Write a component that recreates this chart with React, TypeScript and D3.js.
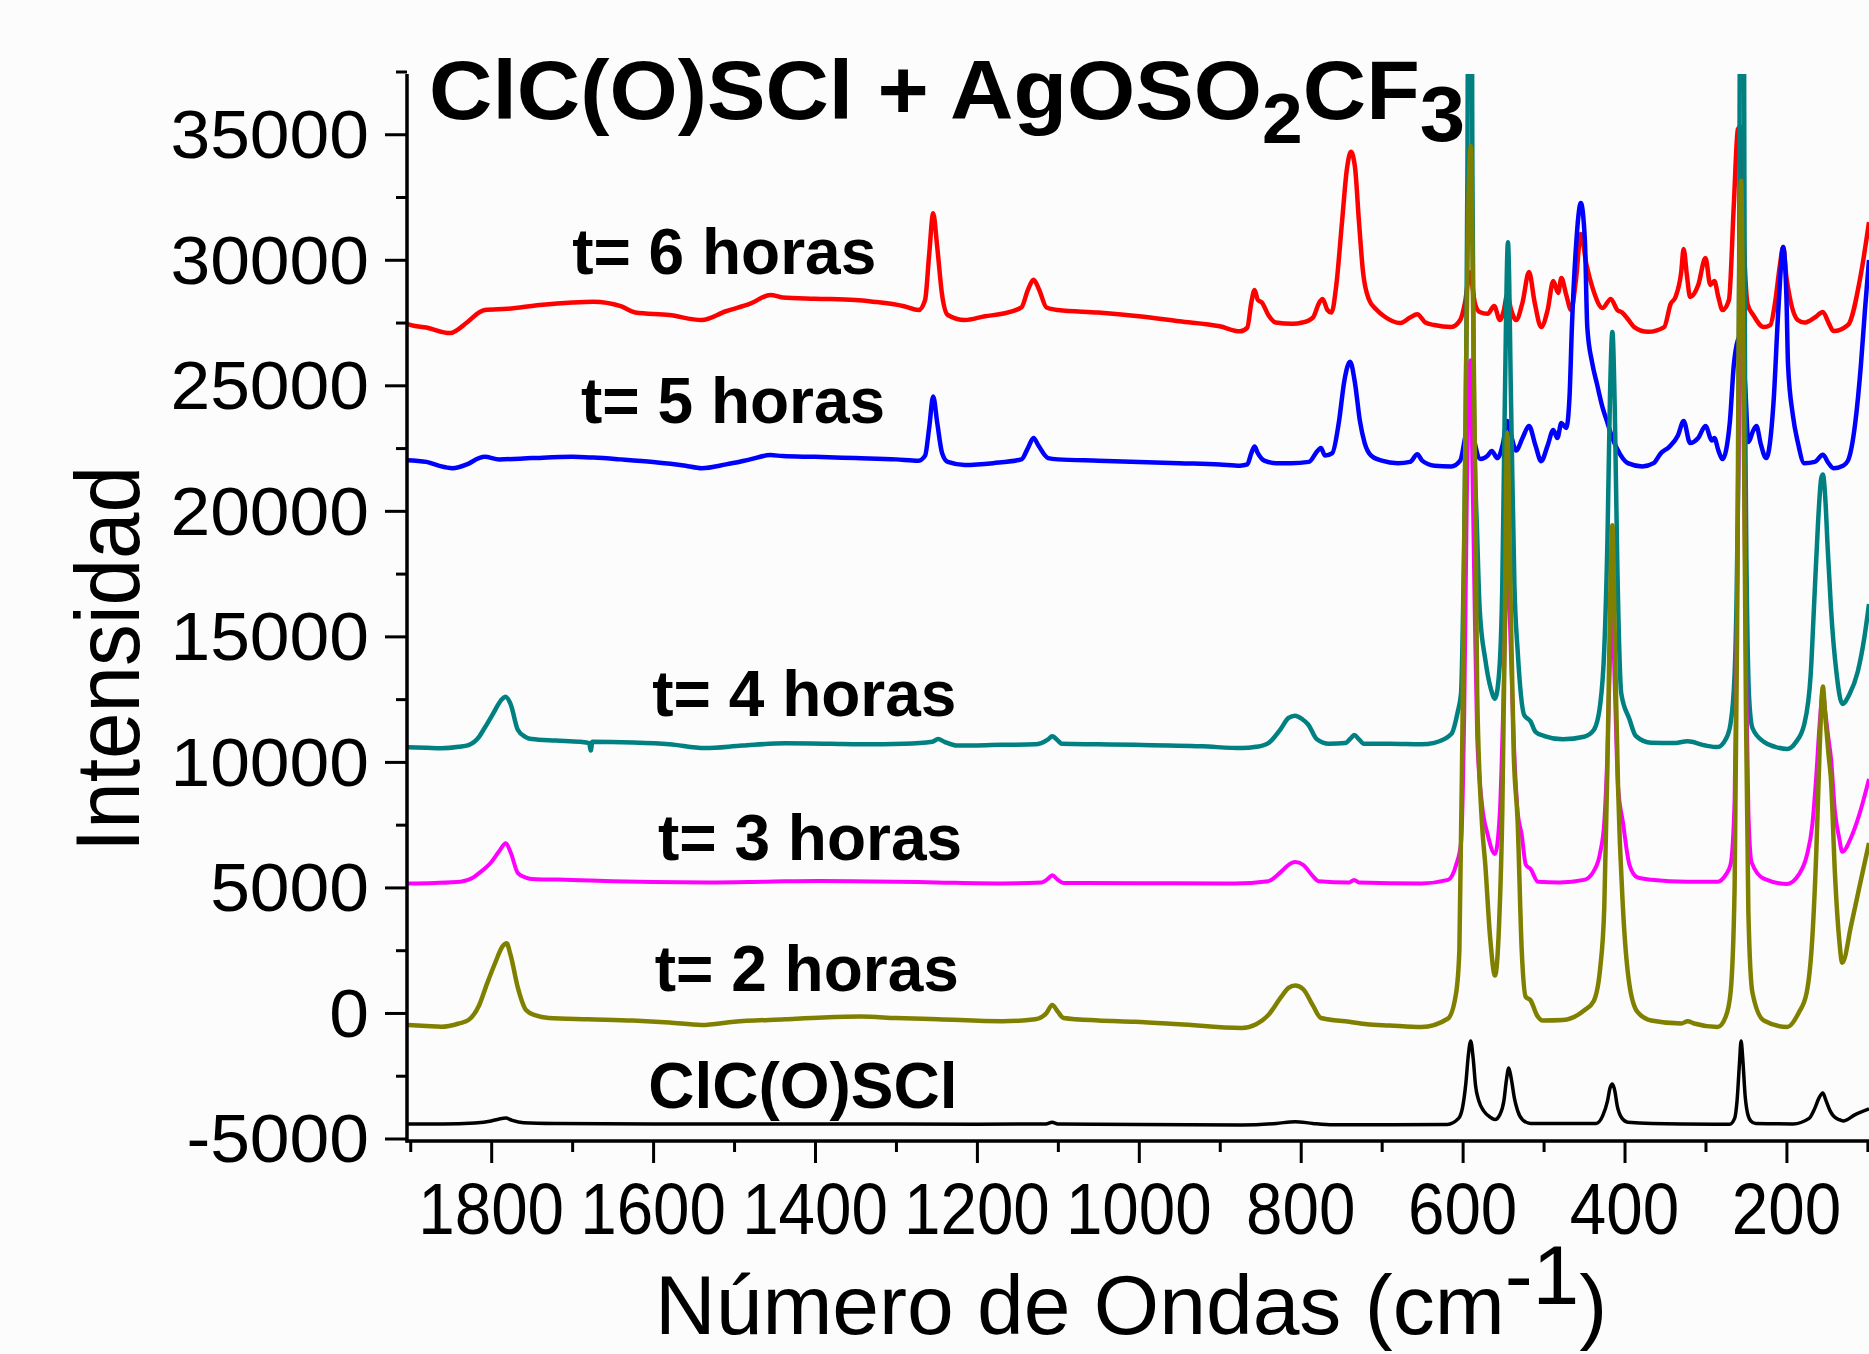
import React, { useEffect, useRef } from 'react';
import * as d3 from 'd3';

// wavenumber (cm-1), intensity pairs
const red6h: [number, number][] = [
  [1904, 27450], [1899, 27400], [1880, 27300], [1851, 27080], [1830, 27500], [1815, 27900], [1808, 28000],
  [1780, 28050], [1740, 28200], [1700, 28300], [1674, 28330], [1640, 28150], [1622, 27900], [1580, 27800],
  [1540, 27600], [1510, 27950], [1480, 28250], [1455, 28600], [1440, 28500], [1400, 28450], [1350, 28400],
  [1328, 28330], [1290, 28150], [1272, 28000], [1264, 28400], [1259, 30200], [1254, 31850], [1249, 30500],
  [1243, 28600], [1236, 27800], [1215, 27600], [1190, 27750], [1169, 27850], [1145, 28100], [1137, 28800],
  [1130, 29200], [1123, 28800], [1114, 28100], [1100, 28000], [1050, 27900], [1000, 27750], [950, 27550],
  [900, 27350], [875, 27150], [866, 27300], [861, 28300], [857, 28800], [853, 28400], [848, 28300],
  [840, 27800], [831, 27500], [810, 27450], [798, 27500], [785, 27700], [777, 28300], [773, 28440],
  [767, 28000], [762, 27900], [756, 29000], [749, 31500], [743, 33600], [738, 34300], [733, 33700],
  [728, 31500], [723, 29500], [716, 28440], [706, 28000], [697, 27750], [677, 27480], [665, 27700],
  [656, 27830], [646, 27500], [635, 27400], [614, 27320], [603, 27600], [597, 28300], [591, 29500],
  [585, 28300], [579, 27920], [569, 27850], [561, 28160], [554, 27600], [549, 28000], [545, 28600],
  [540, 28000], [534, 27600], [526, 28300], [518, 29510], [511, 28300], [503, 27320], [495, 28000],
  [488, 29150], [482, 28680], [478, 29270], [472, 28600], [466, 28000], [460, 29200], [454, 31030],
  [447, 29800], [439, 28830], [427, 28080], [417, 28440], [409, 28000], [403, 27900], [395, 27600],
  [388, 27320], [371, 27130], [351, 27320], [343, 28240], [337, 28520], [330, 29500], [327, 30430],
  [323, 29400], [319, 28520], [309, 28990], [300, 30070], [294, 29000], [289, 29150], [284, 28500],
  [279, 28000], [271, 28400], [265, 32180], [260, 35200], [257, 35300], [253, 31000], [248, 28240],
  [241, 27800], [228, 27320], [220, 27400], [214, 28300], [208, 29800], [204, 30510], [200, 29300],
  [196, 28520], [186, 27600], [178, 27500], [165, 27700], [155, 27920], [148, 27500], [142, 27160],
  [124, 27400], [108, 29430], [98, 31500],
];

const blue5h: [number, number][] = [
  [1904, 22020], [1880, 21950], [1865, 21800], [1848, 21700], [1830, 21850], [1815, 22100], [1808, 22150],
  [1790, 22050], [1750, 22100], [1700, 22150], [1674, 22120], [1640, 22050], [1600, 21950], [1560, 21800],
  [1540, 21700], [1510, 21850], [1480, 22050], [1455, 22220], [1440, 22180], [1400, 22150], [1350, 22100],
  [1300, 22050], [1272, 22000], [1264, 22200], [1259, 23300], [1254, 24550], [1249, 23500], [1243, 22300],
  [1236, 21950], [1215, 21830], [1180, 21900], [1145, 22050], [1137, 22500], [1130, 22900], [1124, 22600],
  [1112, 22100], [1100, 22050], [1050, 22000], [1000, 21950], [950, 21900], [900, 21850], [875, 21800],
  [866, 21850], [861, 22300], [857, 22560], [853, 22300], [845, 22000], [830, 21900], [812, 21900],
  [790, 21950], [779, 22400], [775, 22500], [770, 22200], [761, 22300], [753, 23500], [746, 25200],
  [739, 25940], [733, 25100], [727, 23600], [721, 22700], [713, 22200], [700, 22000], [680, 21900],
  [665, 21950], [656, 22250], [650, 22000], [635, 21800], [614, 21770], [603, 22000], [597, 22900],
  [591, 23800], [585, 22700], [578, 22060], [569, 22200], [564, 22380], [557, 22100], [550, 22700],
  [545, 23580], [540, 23000], [534, 22400], [526, 22900], [518, 23380], [510, 22600], [503, 21980],
  [495, 22600], [488, 23220], [483, 22900], [478, 23500], [472, 23300], [468, 24500], [465, 27320],
  [460, 30500], [454, 32260], [449, 30800], [446, 27320], [440, 25900], [434, 25050], [427, 24100],
  [421, 23500], [415, 22900], [409, 22460], [396, 21900], [378, 21770], [364, 21900], [355, 22300],
  [345, 22540], [334, 23000], [327, 23580], [319, 22700], [309, 22900], [300, 23380], [292, 22800],
  [289, 22900], [284, 22400], [279, 22060], [270, 23500], [265, 25810], [260, 26800], [256, 27000],
  [251, 25000], [247, 22740], [241, 23200], [237, 23380], [232, 22700], [225, 22100], [216, 24290],
  [210, 28000], [204, 30510], [200, 28500], [198, 25810], [192, 23800], [186, 22740], [178, 21900],
  [165, 21950], [155, 22230], [148, 21900], [142, 21700], [130, 21800], [124, 22000], [115, 23500],
  [108, 25810], [103, 28000], [98, 29990],
];

const teal4h: [number, number][] = [
  [1904, 10580], [1880, 10560], [1862, 10540], [1840, 10600], [1828, 10670], [1815, 11000], [1808, 11360],
  [1798, 11900], [1788, 12450], [1782, 12600], [1776, 12300], [1767, 11270], [1758, 11000], [1750, 10910],
  [1720, 10850], [1690, 10800], [1679, 10750], [1677, 10450], [1675, 10800], [1625, 10770], [1580, 10700],
  [1536, 10550], [1490, 10650], [1437, 10740], [1380, 10720], [1343, 10700], [1290, 10720], [1255, 10800],
  [1248, 10910], [1240, 10800], [1225, 10650], [1169, 10680], [1128, 10700], [1112, 10900], [1107, 11020],
  [1100, 10850], [1095, 10720], [1050, 10700], [1005, 10680], [922, 10620], [873, 10550], [855, 10600],
  [840, 10750], [825, 11300], [815, 11750], [807, 11840], [798, 11700], [791, 11500], [780, 10900],
  [765, 10720], [745, 10750], [738, 10950], [734, 11070], [728, 10900], [722, 10720], [690, 10720],
  [651, 10700], [635, 10760], [614, 11110], [606, 12000], [602, 12720], [598, 19000], [596, 24000],
  [594, 34000], [591, 70000], [588, 34000], [586, 24000], [582, 19000], [579, 16130], [572, 14080],
  [565, 12900], [560, 12520], [555, 13500], [551, 17000], [548, 24000], [544, 30700], [540, 24000],
  [536, 17000], [532, 14420], [524, 11870], [516, 11610], [510, 11200], [499, 11030], [476, 10900],
  [450, 11000], [438, 11270], [430, 12300], [425, 14500], [421, 19000], [418, 24500], [415, 27120],
  [412, 24000], [409, 18000], [404, 12720], [394, 11710], [386, 11030], [367, 10760], [340, 10750],
  [322, 10820], [300, 10650], [285, 10590], [275, 10900], [269, 11530], [264, 13500], [261, 17800],
  [259, 24000], [258, 34000], [255, 70000], [252, 34000], [251, 24000], [249, 17000], [246, 12500],
  [242, 11350], [228, 10800], [214, 10600], [199, 10510], [188, 10800], [178, 11500], [170, 13500],
  [166, 16130], [161, 19500], [157, 21300], [155, 21450], [152, 20500], [149, 18500], [145, 16130],
  [138, 13500], [131, 12310], [122, 12700], [112, 13580], [104, 14900], [98, 16290],
];

const magenta3h: [number, number][] = [
  [1904, 5160], [1870, 5180], [1838, 5230], [1822, 5400], [1815, 5570], [1800, 6000], [1790, 6450],
  [1782, 6760], [1776, 6400], [1767, 5570], [1758, 5400], [1750, 5340], [1700, 5300], [1650, 5250],
  [1600, 5220], [1531, 5200], [1460, 5230], [1395, 5260], [1300, 5230], [1250, 5200], [1169, 5160],
  [1120, 5200], [1112, 5350], [1107, 5490], [1100, 5300], [1093, 5180], [1000, 5170], [882, 5160],
  [840, 5250], [825, 5600], [815, 5900], [807, 6010], [797, 5900], [785, 5450], [778, 5250], [740, 5200],
  [734, 5300], [728, 5200], [651, 5160], [618, 5300], [608, 5900], [602, 6770], [598, 12000],
  [595, 20000], [592, 25500], [590, 26000], [588, 22000], [585, 16000], [582, 11000], [576, 8290],
  [569, 7100], [560, 6330], [554, 8000], [550, 12000], [547, 16000], [544, 18000], [541, 15000],
  [537, 11000], [532, 8000], [527, 7100], [522, 5910], [516, 5730], [507, 5230], [480, 5200], [450, 5300],
  [438, 5650], [430, 6400], [425, 7600], [421, 10500], [418, 14000], [415, 16000], [412, 13000],
  [408, 9000], [402, 7600], [394, 5910], [384, 5400], [367, 5310], [322, 5230], [285, 5230], [275, 5500],
  [269, 5910], [264, 8500], [261, 16000], [258, 26000], [256, 30000], [253, 24000], [250, 14000],
  [247, 8000], [243, 6000], [228, 5350], [199, 5140], [185, 5500], [175, 6250], [168, 7500], [163, 9500],
  [159, 11500], [155, 12800], [152, 12000], [148, 10900], [145, 10160], [140, 8000], [135, 7000],
  [131, 6420], [120, 7000], [110, 7900], [98, 9320],
];

const olive2h: [number, number][] = [
  [1904, -480], [1880, -520], [1862, -550], [1840, -420], [1828, -280], [1815, 300], [1805, 1180],
  [1795, 2000], [1786, 2650], [1781, 2780], [1776, 2300], [1767, 1000], [1757, 120], [1745, -100],
  [1729, -200], [1680, -250], [1625, -300], [1580, -380], [1540, -480], [1500, -350], [1437, -250],
  [1390, -180], [1343, -145], [1300, -200], [1248, -250], [1169, -330], [1128, -250], [1114, 0],
  [1107, 320], [1100, 50], [1093, -200], [1050, -300], [1005, -350], [950, -450], [873, -600],
  [855, -450], [840, -80], [825, 600], [815, 1000], [807, 1090], [797, 950], [785, 300], [775, -200],
  [740, -350], [718, -450], [690, -500], [651, -560], [618, -220], [608, 800], [604, 2510], [600, 12000],
  [596, 25000], [593, 32000], [590, 34530], [587, 28000], [584, 20000], [582, 12720], [576, 7500],
  [572, 5910], [566, 3000], [560, 1490], [555, 3500], [551, 8000], [548, 15000], [545, 23100],
  [541, 17000], [537, 10500], [532, 7600], [527, 2500], [522, 640], [516, 500], [508, -100], [501, -300],
  [476, -280], [450, 100], [438, 480], [430, 1800], [425, 4220], [421, 10000], [418, 16000],
  [415, 19430], [412, 15000], [408, 9000], [402, 4220], [394, 1140], [384, 40], [367, -300], [330, -420],
  [322, -330], [314, -420], [285, -560], [275, -150], [269, 810], [264, 5000], [261, 15000],
  [259, 27000], [256, 33150], [253, 25000], [250, 12000], [247, 4000], [242, 810], [228, -300],
  [199, -560], [185, 0], [175, 810], [168, 3000], [163, 6500], [159, 10500], [155, 13000], [152, 11800],
  [148, 10300], [145, 9320], [140, 5500], [135, 3000], [131, 2000], [120, 3500], [110, 5000], [98, 6770],
];

const blackRef: [number, number][] = [
  [1904, -4420], [1860, -4420], [1820, -4380], [1800, -4300], [1790, -4220], [1782, -4184],
  [1774, -4280], [1760, -4370], [1720, -4400], [1600, -4420], [1400, -4420], [1200, -4430],
  [1115, -4420], [1107, -4350], [1100, -4420], [1000, -4440], [873, -4460], [830, -4400], [807, -4330],
  [785, -4400], [760, -4450], [700, -4450], [619, -4440], [605, -4200], [600, -3750], [596, -2800],
  [593, -1700], [590, -1117], [587, -1800], [584, -2900], [580, -3500], [574, -3900], [566, -4150],
  [560, -4245], [554, -4050], [549, -3500], [546, -2700], [543, -2190], [540, -2600], [536, -3400],
  [532, -3900], [526, -4250], [516, -4400], [435, -4400], [427, -4100], [421, -3500], [418, -3000],
  [415, -2830], [412, -3100], [409, -3700], [403, -4200], [396, -4350], [330, -4420], [270, -4430],
  [264, -4200], [261, -3500], [258, -2000], [256, -1117], [254, -1800], [251, -3300], [248, -4000],
  [244, -4300], [238, -4400], [192, -4420], [172, -4200], [165, -3800], [160, -3400], [155, -3190],
  [151, -3500], [146, -3900], [142, -4100], [135, -4250], [130, -4300], [115, -4050], [98, -3820],
];

const seriesData = [red6h, blue5h, teal4h, magenta3h, olive2h, blackRef];
const seriesColors = ['#ff0000', '#0000ff', '#008080', '#ff00ff', '#808000', '#000000'];
const seriesWidths = [4.5, 4.5, 4.5, 4, 4.5, 3.5];

const labelText = ['t= 6 horas', 't= 5 horas', 't= 4 horas', 't= 3 horas', 't= 2 horas', 'ClC(O)SCl'];
const labelAt: [number, number][] = [
  [1700, 29430], [1689, 23500], [1601, 11830], [1594, 6090], [1598, 875], [1606, -3790],
];

const yTicks = [-5000, 0, 5000, 10000, 15000, 20000, 25000, 30000, 35000];
const yMinor = [-2500, 2500, 7500, 12500, 17500, 22500, 27500, 32500, 37500];
const xTicks = [1800, 1600, 1400, 1200, 1000, 800, 600, 400, 200];
const xMinor = [1900, 1700, 1500, 1300, 1100, 900, 700, 500, 300, 100];

const FONT = '"Liberation Sans", Arial, sans-serif';

const App = () => {
  const svgRef = useRef<SVGSVGElement>(null);

  useEffect(() => {
    const svg = d3.select(svgRef.current);
    svg.selectAll('*').remove();

    const width = 1869;
    const height = 1354;
    const left = 407, right = 1869, top = 74, bottom = 1141;

    const x = d3.scaleLinear().domain([1904, 98]).range([left, right]);
    const y = d3.scaleLinear().domain([-5100, 37400]).range([bottom, top]);

    svg.append('rect').attr('width', width).attr('height', height).attr('fill', '#fcfcfc');

    svg.append('defs').append('clipPath').attr('id', 'plotclip')
      .append('rect').attr('x', left).attr('y', top)
      .attr('width', right - left).attr('height', bottom - top);

    const line = d3.line<[number, number]>()
      .x(d => x(d[0]))
      .y(d => y(d[1]))
      .curve(d3.curveMonotoneX);

    const plot = svg.append('g').attr('clip-path', 'url(#plotclip)');
    seriesData.forEach((s, i) => {
      plot.append('path')
        .attr('d', line(s))
        .attr('fill', 'none')
        .attr('stroke', seriesColors[i])
        .attr('stroke-width', seriesWidths[i])
        .attr('stroke-linejoin', 'round');
    });

    // ejes
    const yAxis = svg.append('g').attr('transform', `translate(${left},0)`)
      .call(d3.axisLeft(y).tickValues(yTicks).tickSize(22).tickPadding(16).tickFormat(d => String(d)));
    yAxis.select('.domain').remove();
    yAxis.selectAll('line').attr('stroke-width', 3);
    yAxis.selectAll('text').remove();
    yTicks.forEach(t => {
      svg.append('text')
        .attr('transform', `translate(${left - 38},${y(t) + 24}) scale(1.05,1)`)
        .attr('text-anchor', 'end')
        .attr('font-family', FONT).attr('font-size', 68)
        .text(String(t));
    });
    svg.append('g').attr('transform', `translate(${left},0)`)
      .call(d3.axisLeft(y).tickValues(yMinor).tickSize(11).tickFormat(() => ''))
      .call(g => g.select('.domain').remove())
      .selectAll('line').attr('stroke-width', 3);

    const xAxis = svg.append('g').attr('transform', `translate(0,${bottom})`)
      .call(d3.axisBottom(x).tickValues(xTicks).tickSize(22).tickFormat(d => String(d)));
    xAxis.select('.domain').remove();
    xAxis.selectAll('line').attr('stroke-width', 3);
    xAxis.selectAll('text').remove();
    xTicks.forEach(t => {
      svg.append('text')
        .attr('transform', `translate(${x(t)},1234) scale(0.91,1)`)
        .attr('text-anchor', 'middle')
        .attr('font-family', FONT).attr('font-size', 72)
        .text(String(t));
    });
    svg.append('g').attr('transform', `translate(0,${bottom})`)
      .call(d3.axisBottom(x).tickValues(xMinor).tickSize(11).tickFormat(() => ''))
      .call(g => g.select('.domain').remove())
      .selectAll('line').attr('stroke-width', 3);

    svg.append('line').attr('x1', left).attr('x2', left).attr('y1', top).attr('y2', bottom + 1.5)
      .attr('stroke', '#000').attr('stroke-width', 3.5);
    svg.append('line').attr('x1', left - 1.5).attr('x2', right).attr('y1', bottom).attr('y2', bottom)
      .attr('stroke', '#000').attr('stroke-width', 3.5);

    // titulos de ejes
    svg.append('text')
      .attr('transform', 'translate(139,659) rotate(-90) scale(0.93,1)')
      .attr('text-anchor', 'middle')
      .attr('font-family', FONT).attr('font-size', 90)
      .text('Intensidad');

    const xt = svg.append('text')
      .attr('x', 655).attr('y', 1334)
      .attr('font-family', FONT).attr('font-size', 84);
    xt.append('tspan').text('Número de Ondas (cm');
    xt.append('tspan').attr('dy', -30).text('-1');
    xt.append('tspan').attr('dy', 30).text(')');

    // titulo
    const title = svg.append('text')
      .attr('transform', 'translate(429,119) scale(1.045,1)')
      .attr('font-family', FONT).attr('font-weight', 'bold').attr('font-size', 84);
    title.append('tspan').text('ClC(O)SCl + AgOSO');
    title.append('tspan').attr('dy', 24).attr('font-size', 70).text('2');
    title.append('tspan').attr('dy', -24).text('CF');
    title.append('tspan').attr('dy', 22).attr('font-size', 78).text('3');

    // etiquetas de series
    labelText.forEach((t, i) => {
      svg.append('text')
        .attr('x', x(labelAt[i][0])).attr('y', y(labelAt[i][1]))
        .attr('font-family', FONT).attr('font-weight', 'bold').attr('font-size', 64)
        .attr('fill', '#000')
        .text(t);
    });
  }, []);

  return (
    <svg ref={svgRef} width="1869" height="1354"
      style={{ position: 'absolute', left: 0, top: 0, display: 'block' }} />
  );
};

export default App;
